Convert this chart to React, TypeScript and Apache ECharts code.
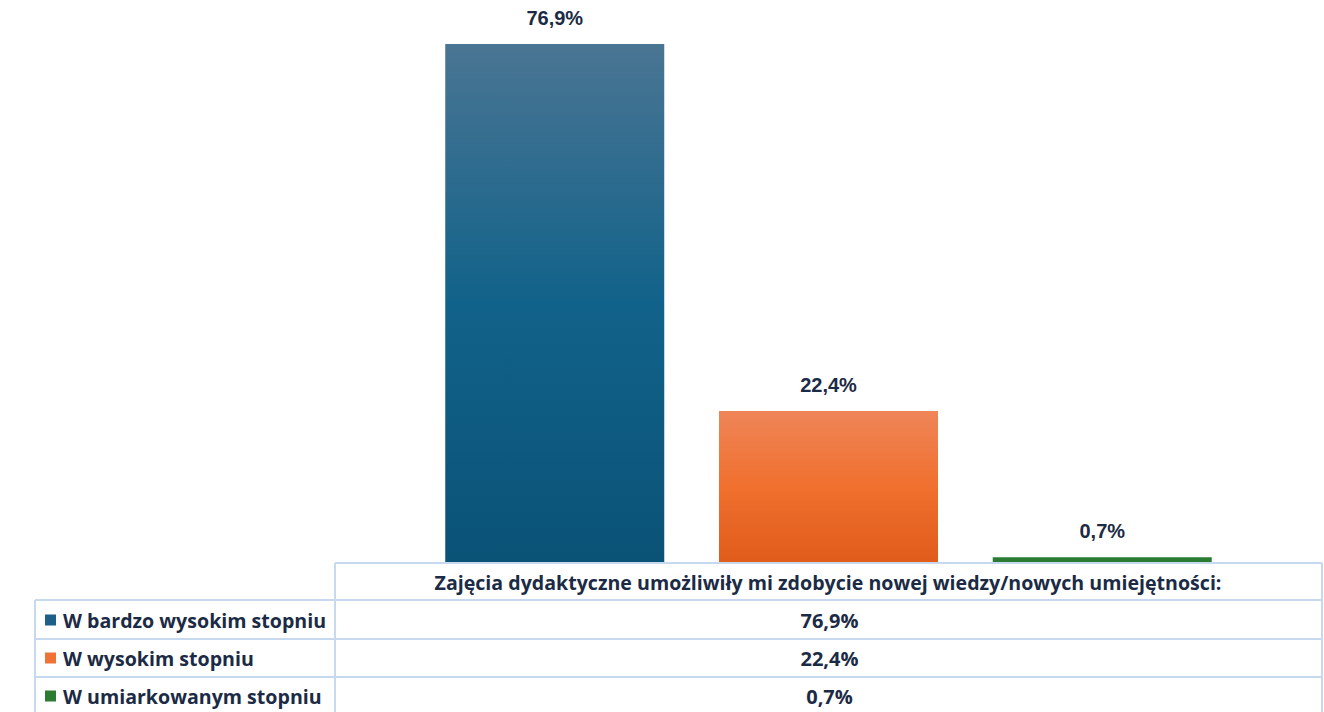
import React, { useEffect, useRef } from 'react';
import * as echarts from 'echarts';

const category = 'Zajęcia dydaktyczne umożliwiły mi zdobycie nowej wiedzy/nowych umiejętności:';
const seriesNames = ['W bardzo wysokim stopniu', 'W wysokim stopniu', 'W umiarkowanym stopniu'];
const values = [76.9, 22.4, 0.7];
const topColors = ['#4a7593', '#ef8558', '#2b7b33'];
const midColors = ['#11628a', '#f0702e', '#2b7b33'];
const bottomColors = ['#0a5276', '#e05c1b', '#2b7b33'];
const keyColors = ['#1d5f86', '#ef7237', '#2b7b33'];

const fmt = (v: number) => v.toFixed(1).replace('.', ',') + '%';

const TEXT = '#1c2b45';
const BORDER = '#c6d9ef';

export default function App() {
  const ref = useRef<HTMLDivElement>(null);
  useEffect(() => {
    if (!ref.current) return;
    const chart = echarts.init(ref.current, null, { renderer: 'svg' });

    const plotLeft = 335;
    const plotRight = 1322;
    const tableTop = 563;
    const rowH = 38;
    const leftCol = 35;

    const graphics: any[] = [];
    const line = (x1: number, y1: number, x2: number, y2: number) => ({
      type: 'line',
      shape: { x1, y1, x2, y2 },
      style: { stroke: BORDER, lineWidth: 2 },
      silent: true,
    });
    graphics.push(line(plotLeft, tableTop, plotRight, tableTop));
    for (let i = 1; i <= seriesNames.length + 1; i++) {
      const y = tableTop + rowH * i - (i === 1 ? 1 : 0);
      graphics.push(line(leftCol, y, plotRight, y));
    }
    graphics.push(line(leftCol, tableTop + rowH - 1, leftCol, 712));
    graphics.push(line(plotLeft, tableTop, plotLeft, 712));
    graphics.push(line(plotRight, tableTop, plotRight, 712));

    graphics.push({
      type: 'text',
      x: (plotLeft + plotRight) / 2 - 0.5,
      y: tableTop + rowH / 2,
      style: {
        text: category,
        fill: TEXT,
        font: 'bold 19.6px "Open Sans"',
        align: 'center',
        verticalAlign: 'middle',
      },
    });

    seriesNames.forEach((name, i) => {
      const cy = tableTop + rowH * (i + 1) + rowH / 2;
      graphics.push({
        type: 'rect',
        shape: { x: 45, y: cy - 5.5, width: 11, height: 11 },
        style: { fill: keyColors[i] },
      });
      graphics.push({
        type: 'text',
        x: 63,
        y: cy,
        style: {
          text: name,
          fill: TEXT,
          font: 'bold 19.6px "Open Sans"',
          align: 'left',
          verticalAlign: 'middle',
        },
      });
      graphics.push({
        type: 'text',
        x: (plotLeft + plotRight) / 2 + 1,
        y: cy,
        style: {
          text: fmt(values[i]),
          fill: TEXT,
          font: 'bold 20px "Open Sans"',
          align: 'center',
          verticalAlign: 'middle',
        },
      });
    });

    chart.setOption({
      animation: false,
      backgroundColor: '#ffffff',
      grid: { left: plotLeft, right: 1324 - plotRight, top: 23, bottom: 712 - 562 },
      xAxis: {
        type: 'category',
        data: [category],
        axisLine: { show: false },
        axisTick: { show: false },
        axisLabel: { show: false },
      },
      yAxis: {
        type: 'value',
        min: 0,
        max: 80,
        show: false,
        splitLine: { show: false },
      },
      series: seriesNames.map((name, i) => ({
        type: 'bar',
        name,
        data: [values[i]],
        barWidth: 219,
        barGap: '25%',
        itemStyle: {
          color: new echarts.graphic.LinearGradient(0, 0, 0, 1, [
            { offset: 0, color: topColors[i] },
            { offset: 0.5, color: midColors[i] },
            { offset: 1, color: bottomColors[i] },
          ]),
        },
        label: {
          show: true,
          position: 'top',
          distance: 16,
          formatter: (p: any) => fmt(p.value),
          color: TEXT,
          fontFamily: '"Liberation Sans", Arial, sans-serif',
          fontWeight: 'bold',
          fontSize: 20,
        },
      })),
      graphic: graphics,
    });
    return () => chart.dispose();
  }, []);
  return (
    <div
      ref={ref}
      style={{ position: 'absolute', left: 0, top: 0, width: 1324, height: 712 }}
    />
  );
}
